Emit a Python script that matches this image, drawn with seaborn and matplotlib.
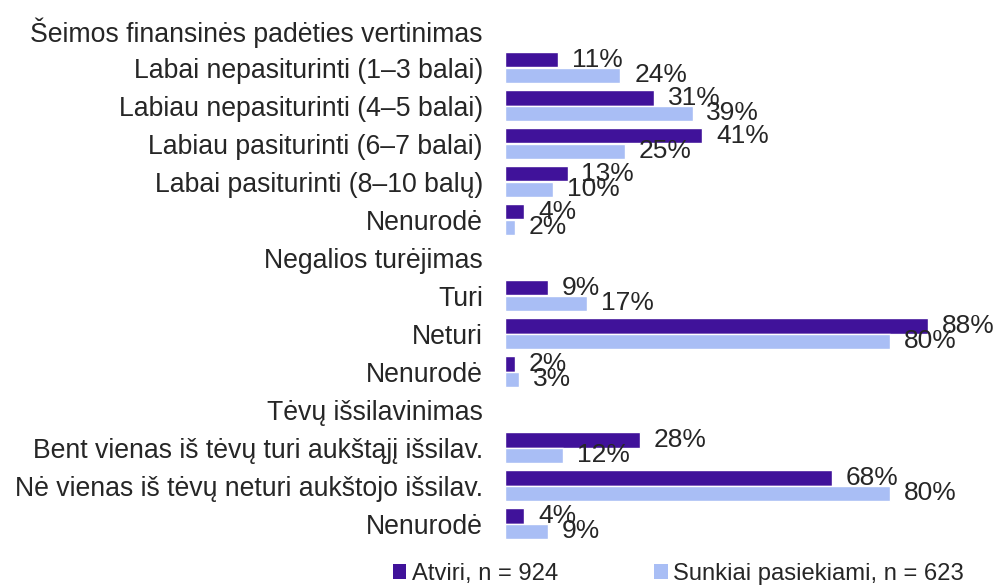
import pandas as pd
import matplotlib.pyplot as plt
from matplotlib.patches import Patch
import seaborn as sns

# Row labels (headers have no bars)
labels = ['Šeimos finansinės padėties vertinimas',
          'Labai nepasiturinti (1–3 balai)',
          'Labiau nepasiturinti (4–5 balai)',
          'Labiau pasiturinti (6–7 balai)',
          'Labai pasiturinti (8–10 balų)',
          'Nenurodė',
          'Negalios turėjimas',
          'Turi',
          'Neturi',
          'Nenurodė',
          'Tėvų išsilavinimas',
          'Bent vienas iš tėvų turi aukštąjį išsilav.',
          'Nė vienas iš tėvų neturi aukštojo išsilav.',
          'Nenurodė']

atviri = [None, 11, 31, 41, 13, 4, None, 9, 88, 2, None, 28, 68, 4]
sunkiai = [None, 24, 39, 25, 10, 2, None, 17, 80, 3, None, 12, 80, 9]

series_names = ['Atviri, n = 924', 'Sunkiai pasiekiami, n = 623']
colors = ['#40129A', '#A9BEF5']

# long format, keyed by row number so repeated labels stay separate
keys = [str(i) for i in range(len(labels))]
rows = []
for k, a, s in zip(keys, atviri, sunkiai):
    if a is not None:
        rows.append({'row': k, 'group': series_names[0], 'value': a})
        rows.append({'row': k, 'group': series_names[1], 'value': s})
df = pd.DataFrame(rows)

sns.set_style('white')
plt.rcParams['font.family'] = ['Liberation Sans', 'DejaVu Sans']

fig = plt.figure(figsize=(9.93, 5.85), dpi=100)
ax = fig.add_axes([505 / 993, 42.5 / 585, 488 / 993, 532 / 585])

sns.barplot(data=df, y='row', x='value', hue='group', order=keys,
            hue_order=series_names, palette=colors, orient='h',
            width=0.82, errorbar=None, legend=False, ax=ax, saturation=1)

for c in ax.containers:
    ax.bar_label(c, fmt='%.0f%%', padding=10, fontsize=19)

ax.set_xlim(0, 101.5)
ax.set_ylim(len(labels) - 0.5, -0.5)
ax.set_yticks(range(len(labels)))
ax.set_yticklabels(labels, fontsize=19.2)
ax.tick_params(axis='y', length=0, pad=16)
ax.set_xticks([])
ax.set_xlabel('')
ax.set_ylabel('')
sns.despine(ax=ax, left=True, bottom=True)

handles = [Patch(facecolor=c, edgecolor='none') for c in colors]
fig.legend(handles, series_names, loc='center left', bbox_to_anchor=(393 / 993, 11 / 585),
           ncol=2, frameon=False, fontsize=17.1, handlelength=0.55, handleheight=0.55,
           handletextpad=0.25, columnspacing=4.05, borderpad=0, borderaxespad=0)

fig.savefig('out.png', dpi=100)
